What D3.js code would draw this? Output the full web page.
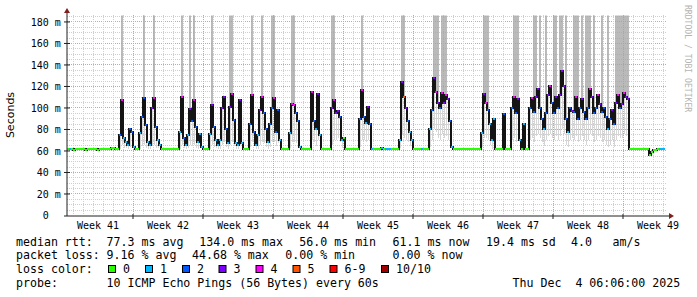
<!DOCTYPE html>
<html>
<head>
<meta charset="utf-8">
<title>SmokePing - last 60 days</title>
<script src="https://d3js.org/d3.v7.min.js"></script>
<style>
  body { margin: 0; background: #fff; }
  svg text { font-family: "DejaVu Sans Mono", monospace; fill: #000; white-space: pre; }
  .axis-label { font-size: 10px; }
  .legend text { font-size: 11.6px; }
</style>
</head>
<body>
<svg width="697" height="297"></svg>
<script>
// one sample = 4.8 h (2 px), starting at the left edge of the graph
const t0 = Date.UTC(2025, 9, 5, 9, 36);
const t1 = t0 + 60 * 864e5;
const stepMs = 4.8 * 3600e3;

// median rtt (ms)
const med = [
  61.5, 61.8, 61.5, 61.2, 61.5, 61.5, 61.8, 61.5, 61.5, 61.2,
  61.5, 61.5, 61.8, 61.5, 61.5, 61.2, 61.5, 61.5, 61.5, 61.8,
  61.5, 61.8, 63, 62.5, 61.5, 61.5, 75, 107, 72, 68,
  66, 80, 78, 64, 61.5, 61.5, 77, 92, 109, 84,
  68, 66, 100, 109, 82, 70, 66, 61.5, 61.5, 61.5,
  61.5, 61.5, 61.5, 61.5, 61.5, 61.5, 78, 110, 72, 66,
  75, 99, 88, 107, 82, 68, 76, 64, 61.5, 61.5,
  61.5, 76, 103, 82, 70, 66, 70, 100, 110, 80,
  67, 101, 113, 89, 67, 66, 107, 67, 61.5, 61.5,
  61.5, 85, 112, 78, 66, 75, 98, 110, 95, 80,
  68, 85, 100, 109, 78, 98, 70, 61.5, 61.5, 61.5,
  61.5, 77, 104, 103, 95, 88, 64, 61.5, 61.5, 61.5,
  61.5, 61.5, 115, 88, 80, 113, 75, 61.5, 61.5, 61.5,
  61.5, 61.5, 100, 107, 95, 97, 92, 70, 72, 61.5,
  61.5, 61.5, 61.5, 61.5, 61.5, 61.5, 90, 117, 92, 86,
  101, 85, 62, 61.5, 61.5, 61.5, 61.5, 63, 61.5, 61.5,
  61.5, 61.5, 61.5, 61.5, 61.5, 61.5, 70, 124, 110, 100,
  88, 78, 70, 61.5, 61.5, 61.5, 61.5, 61.5, 61.5, 61.5,
  61.5, 80, 98, 128, 115, 105, 100, 114, 105, 112,
  108, 88, 64, 61.5, 61.5, 61.5, 61.5, 61.5, 61.5, 61.5,
  61.5, 61.5, 61.5, 61.5, 61.5, 61.5, 61.5, 77, 113, 105,
  98, 85, 70, 90, 61.5, 61.5, 61.5, 61.5, 94, 61.5,
  61.5, 61.5, 100, 110, 95, 108, 70, 61.5, 85, 61.5,
  61.5, 100, 109, 96, 110, 118, 100, 90, 80, 95,
  112, 120, 105, 95, 110, 100, 112, 134, 120, 90,
  78, 100, 97, 96, 110, 90, 100, 108, 96, 90,
  100, 118, 110, 95, 100, 112, 104, 96, 100, 92,
  80, 90, 98, 85, 105, 112, 100, 104, 114, 110,
  108, 62, 61.5, 61.5, 61.8, 61.5, 61.5, 61.8, 61.5, 61.5,
  61.5, 56, 59, 60.5, 61, 61.5, 61.5, 61.5, 61.5
];

// lost pings out of 10 for each sample
const loss = [
  0,1,0,0,0,0,0,0,0,0,  0,0,0,0,0,0,0,0,0,0,
  0,0,0,0,0,0,2,4,1,1,  1,2,2,1,0,0,1,2,2,2,
  1,1,3,4,2,1,1,0,0,0,  0,0,0,0,0,0,1,4,2,1,
  1,3,2,4,2,1,1,1,0,0,  0,1,3,2,1,1,1,3,3,2,
  1,3,4,2,1,1,3,1,0,0,  0,2,4,2,1,1,3,4,2,2,
  1,2,2,4,2,2,1,0,0,0,  0,1,4,4,2,2,1,0,0,0,
  0,0,4,2,1,3,1,0,0,0,  0,0,3,4,3,3,2,1,0,0,
  0,0,0,0,0,0,2,4,2,1,  3,2,1,0,0,0,0,1,0,1,
  1,1,0,0,0,0,1,3,5,3,  2,1,1,0,0,0,0,1,0,0,
  0,1,2,3,4,3,2,4,3,4,  3,2,1,0,0,0,0,0,0,0,
  0,0,0,0,0,0,0,1,3,4,  2,1,1,1,0,0,0,0,2,0,
  0,0,2,4,2,3,1,0,1,0,  0,2,4,2,3,3,2,2,1,2,
  3,4,2,2,3,2,3,3,3,2,  1,2,3,2,4,2,2,3,2,2,
  2,4,3,2,2,4,3,2,2,2,  1,2,3,2,3,4,2,3,4,3,
  3,0,0,0,0,0,0,0,0,0,  0,0,0,0,0,0,1,1,1
];

// fastest ping of each sample (ms), lower edge of the light smoke
const minRtt = [
  61,61,61,61,61,61,61,61,61,61,  61,61,61,61,61,61,61,61,61,61,
  61,61,61,61,61,61,62,66,63,63,  62,64,64,62,61,61,62,65,66,63,
  62,62,65,66,63,63,62,61,61,61,  61,61,61,61,61,61,62,66,63,62,
  63,66,65,66,63,62,63,61,61,61,  61,62,66,64,63,62,62,66,68,64,
  62,66,68,65,62,62,66,62,61,61,  61,64,68,65,62,62,66,68,67,64,
  62,64,68,68,65,67,62,61,61,61,  61,63,68,68,67,65,61,61,61,61,
  61,61,70,68,65,70,63,61,61,61,  61,61,66,70,70,72,68,63,63,61,
  61,61,61,61,61,61,64,70,70,68,  70,66,61,61,61,61,61,61,61,61,
  61,61,61,61,61,61,63,75,72,70,  68,65,62,61,61,61,61,61,61,61,
  61,64,70,80,78,72,70,76,72,74,  70,66,61,61,61,61,61,61,61,61,
  61,61,61,61,61,61,61,64,72,72,  70,66,62,62,61,61,61,61,64,61,
  61,61,70,72,68,70,64,61,62,61,  61,70,72,68,74,76,72,68,65,70,
  74,76,72,70,74,70,74,80,76,66,  64,70,72,70,74,68,70,74,70,66,
  70,76,74,68,70,74,72,68,70,66,  64,66,70,64,70,74,72,72,76,74,
  72,61,61,61,61,61,61,61,61,61,  61,56,58,60,61,61,61,61,61
];

// samples whose slowest pings go beyond the top of the graph
const spikes = [27, 38, 43, 57, 61, 63, 72, 81, 82, 92, 97, 102, 103, 112, 113,
  132, 133, 147, 167, 168, 183, 184, 185, 187, 188, 189, 208, 209, 210, 223, 224,
  225, 233, 234, 236, 239, 243, 244, 246, 247, 249, 253, 254, 255, 257, 259, 260,
  261, 263, 267, 270, 274, 275, 276, 277, 278, 279, 280];

const lossColors = ["#26ff00", "#00b8ff", "#0059ff", "#7e00ff", "#ff00ff", "#ff5500", "#ff0000", "#a10000"];
const lossLabels = ["0", "1", "2", "3", "4", "5", "6-9", "10/10"];
const yTicks = [0, 20, 40, 60, 80, 100, 120, 140, 160, 180];

const rttStats = ["77.3 ms avg", "134.0 ms max", "56.0 ms min", "61.1 ms now", "19.4 ms sd", "4.0", "am/s"];
const lossStats = ["9.16 % avg", "44.68 % max", "0.00 % min", "0.00 % now"];
const probeText = "10 ICMP Echo Pings (56 Bytes) every 60s";
const stampText = "Thu Dec  4 06:06:00 2025";

const svg = d3.select("svg");
const x = d3.scaleUtc().domain([t0, t1]).range([67, 667]);
const y = d3.scaleLinear().domain([0, 186]).range([215.5, 15.5]);
const ts = i => t0 + i * stepMs;

// grid
const grid = svg.append("g").attr("shape-rendering", "crispEdges");
const hLines = d3.range(5, 186, 5);
grid.selectAll(".hg").data(hLines).enter().append("line")
  .attr("x1", 67).attr("x2", 667)
  .attr("y1", d => Math.floor(y(d)) + 0.5).attr("y2", d => Math.floor(y(d)) + 0.5)
  .attr("stroke", d => d % 20 === 0 ? "#e29a9a" : "#cfcfcf")
  .attr("stroke-dasharray", "1,1");

const weeks = d3.utcSunday.range(new Date(t0), new Date(t1));
const days = d3.utcDay.range(new Date(t0), new Date(t1)).filter(d => d.getUTCDay() !== 0);
grid.selectAll(".vg").data(days).enter().append("line")
  .attr("x1", d => Math.round(x(d)) + 0.5).attr("x2", d => Math.round(x(d)) + 0.5)
  .attr("y1", 15).attr("y2", 215)
  .attr("stroke", "#cfcfcf").attr("stroke-dasharray", "1,1");
grid.selectAll(".vm").data(weeks).enter().append("line")
  .attr("x1", d => Math.round(x(d)) + 0.5).attr("x2", d => Math.round(x(d)) + 0.5)
  .attr("y1", 15).attr("y2", 215)
  .attr("stroke", "#e29a9a").attr("stroke-dasharray", "1,1");

// smoke
const plot = svg.append("g");
plot.selectAll(".lo").data(med).enter().append("rect")
  .attr("shape-rendering", "crispEdges")
  .attr("x", (d, i) => x(ts(i)) + 1)
  .attr("width", 1)
  .attr("y", (d, i) => y(d))
  .attr("height", (d, i) => Math.max(0, y(minRtt[i]) - y(d)))
  .attr("fill", "#d6d6d6");

plot.selectAll(".spike").data(spikes).enter().append("rect")
  .attr("x", i => x(ts(i)) + 0.25)
  .attr("width", 1.5)
  .attr("y", 15.5)
  .attr("height", i => y(med[i]) - 15.5)
  .attr("fill", "#a4a4a4");

// median, dark where it jumps
const line = d3.line()
  .x((d, i) => x(ts(i)))
  .y(d => y(d))
  .curve(d3.curveStepAfter);
plot.append("path")
  .attr("shape-rendering", "crispEdges")
  .attr("d", line(med.concat([med[med.length - 1]])))
  .attr("fill", "none")
  .attr("stroke", "#141414")
  .attr("stroke-width", 2);

plot.selectAll(".seg").data(med).enter().append("line")
  .attr("shape-rendering", "crispEdges")
  .attr("x1", (d, i) => x(ts(i)))
  .attr("x2", (d, i) => x(ts(i + 1)))
  .attr("y1", d => y(d)).attr("y2", d => y(d))
  .attr("stroke", (d, i) => lossColors[loss[i]])
  .attr("stroke-width", 2);

// axes
const axis = svg.append("g");
axis.append("line").attr("x1", 67).attr("x2", 67).attr("y1", 216).attr("y2", 12)
  .attr("stroke", "#202020").attr("stroke-width", 1);
axis.append("line").attr("x1", 64).attr("x2", 669).attr("y1", 216).attr("y2", 216)
  .attr("stroke", "#202020").attr("stroke-width", 1);
axis.append("path").attr("d", "M67,8 L64,13 L70,13 Z").attr("fill", "#801f1f");
axis.append("path").attr("d", "M674,216 L669,213 L669,219 Z").attr("fill", "#801f1f");

axis.selectAll(".xt").data(weeks).enter().append("line")
  .attr("x1", d => Math.round(x(d))).attr("x2", d => Math.round(x(d)))
  .attr("y1", 214).attr("y2", 219)
  .attr("stroke", "#202020");
axis.selectAll(".yt").data(yTicks.slice(1)).enter().append("line")
  .attr("x1", 64).attr("x2", 70)
  .attr("y1", d => y(d)).attr("y2", d => y(d))
  .attr("stroke", "#202020");

// y labels
axis.selectAll(".yl").data(yTicks).enter().append("text")
  .attr("class", "axis-label")
  .attr("x", 48.8).attr("y", d => y(d) + 3.6)
  .attr("text-anchor", "end")
  .text(d => d);
axis.selectAll(".yu").data(yTicks.slice(1)).enter().append("text")
  .attr("class", "axis-label")
  .attr("x", 54.8).attr("y", d => y(d) + 3.6)
  .text("m");

// week labels
const weekCenters = d3.utcSunday.range(new Date(t0 - 7 * 864e5), new Date(t1))
  .map(s => new Date(+s + 3.5 * 864e5))
  .filter(c => c >= t0 && c <= t1);
axis.selectAll(".xl").data(weekCenters).enter().append("text")
  .attr("class", "axis-label")
  .attr("x", d => x(d)).attr("y", 228.5)
  .attr("text-anchor", "middle")
  .text(d => "Week " + d3.utcFormat("%V")(d));

svg.append("text")
  .attr("transform", "translate(14,115) rotate(-90)")
  .attr("text-anchor", "middle")
  .style("font-family", "'DejaVu Sans', sans-serif")
  .style("font-size", "11px")
  .text("Seconds");

svg.append("text")
  .attr("transform", "translate(684.5,5) rotate(90)")
  .style("font-size", "8.1px")
  .style("fill", "#b4b4b4")
  .text("RRDTOOL / TOBI OETIKER");

// legend
const lg = svg.append("g").attr("class", "legend");
const rowY = [245.5, 259.2, 272.9, 286.6];
lg.append("text").attr("x", 16).attr("y", rowY[0]).text("median rtt:");
const rttX = [106.6, 199.3, 299.3, 392.6, 486, 571, 612.6];
rttStats.forEach((s, i) => lg.append("text").attr("x", rttX[i]).attr("y", rowY[0]).text(s));

lg.append("text").attr("x", 16).attr("y", rowY[1]).text("packet loss:");
const lossX = [106.6, 192, 285.3, 392.6];
lossStats.forEach((s, i) => lg.append("text").attr("x", lossX[i]).attr("y", rowY[1]).text(s));

lg.append("text").attr("x", 16).attr("y", rowY[2]).text("loss color:");
const boxX = [108.5, 145.5, 182.5, 219, 256, 293, 330, 381.5];
lg.selectAll(".box").data(lossColors).enter().append("rect")
  .attr("x", (d, i) => boxX[i]).attr("y", 265.5)
  .attr("width", 7).attr("height", 7)
  .attr("fill", d => d).attr("stroke", "#000").attr("stroke-width", 1);
lg.selectAll(".bl").data(lossLabels).enter().append("text")
  .attr("x", (d, i) => boxX[i] + 14.5).attr("y", rowY[2])
  .text(d => d);

lg.append("text").attr("x", 16).attr("y", rowY[3]).text("probe:");
lg.append("text").attr("x", 106.6).attr("y", rowY[3]).text(probeText);
lg.append("text").attr("x", 512.6).attr("y", rowY[3]).text(stampText);
</script>
</body>
</html>
